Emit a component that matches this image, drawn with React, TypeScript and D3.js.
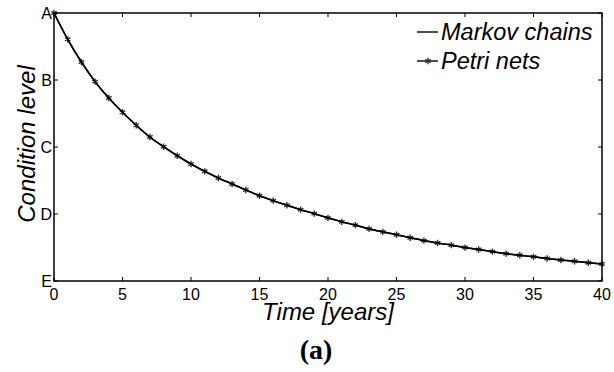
import React from "react";
import * as d3 from "d3";

// Years 0..40 and the mean condition level (A = 1 ... E = 5)
const years: number[] = d3.range(0, 41);

const markovLevels: number[] = [
  1.0, 1.393, 1.731, 2.025, 2.269, 2.482, 2.676, 2.851, 2.996, 3.13,
  3.254, 3.363, 3.463, 3.552, 3.642, 3.727, 3.801, 3.87, 3.935, 3.995,
  4.058, 4.117, 4.166, 4.222, 4.267, 4.309, 4.354, 4.397, 4.433, 4.465,
  4.501, 4.529, 4.561, 4.592, 4.616, 4.639, 4.665, 4.686, 4.706, 4.727,
  4.746,
];

const petriLevels: number[] = [
  1.0, 1.393, 1.731, 2.025, 2.269, 2.482, 2.676, 2.851, 2.996, 3.13,
  3.254, 3.363, 3.463, 3.552, 3.642, 3.727, 3.801, 3.87, 3.935, 3.995,
  4.058, 4.117, 4.166, 4.222, 4.267, 4.309, 4.354, 4.397, 4.433, 4.465,
  4.501, 4.529, 4.561, 4.592, 4.616, 4.639, 4.665, 4.686, 4.706, 4.727,
  4.746,
];

const xTicks: number[] = [0, 5, 10, 15, 20, 25, 30, 35, 40];
const yTicks: number[] = [1, 2, 3, 4, 5];
const yTickLabels: string[] = ["A", "B", "C", "D", "E"];

const seriesNames: string[] = ["Markov chains", "Petri nets"];

const W = 614;
const H = 372;
const M = { left: 54, right: 602, top: 13, bottom: 281 };
const SANS = "'Liberation Sans', Arial, Helvetica, sans-serif";
const SERIF = "'Liberation Serif', 'Times New Roman', serif";

export default function App() {
  const x = d3.scaleLinear().domain([0, 40]).range([M.left, M.right]);
  const y = d3.scaleLinear().domain([1, 5]).range([M.top, M.bottom]);

  const line = d3
    .line<number>()
    .x((_, i) => x(years[i]))
    .y((d) => y(d))
    .curve(d3.curveMonotoneX);

  const star = d3.symbol().type(d3.symbolAsterisk).size(28);
  const starPath = star() as string;

  const tickLen = 4;

  return (
    <svg
      width={W}
      height={H}
      style={{ position: "fixed", left: 0, top: 0, background: "#fff" }}
    >
      <rect x={0} y={0} width={W} height={H} fill="#fff" />

      {/* Petri net series: line with asterisk markers */}
      <path d={line(petriLevels) as string} fill="none" stroke="#000" strokeWidth={1.4} />
      {petriLevels.map((v, i) => (
        <path
          key={"m" + i}
          d={starPath}
          transform={`translate(${x(years[i])},${y(v)})`}
          fill="none"
          stroke="#333"
          strokeWidth={1.4}
        />
      ))}
      {/* Markov chain series */}
      <path d={line(markovLevels) as string} fill="none" stroke="#000" strokeWidth={1.6} />

      {/* Frame */}
      <rect
        x={M.left}
        y={M.top}
        width={M.right - M.left}
        height={M.bottom - M.top}
        fill="none"
        stroke="#000"
        strokeWidth={1.5}
      />

      {/* X ticks (inward, bottom and top) */}
      {xTicks.map((t) => (
        <g key={"x" + t}>
          <line x1={x(t)} x2={x(t)} y1={M.bottom} y2={M.bottom - tickLen} stroke="#000" strokeWidth={1} />
          <line x1={x(t)} x2={x(t)} y1={M.top} y2={M.top + tickLen} stroke="#000" strokeWidth={1} />
          <text
            x={x(t)}
            y={M.bottom + 19}
            textAnchor="middle"
            fontFamily={SANS}
            fontSize={16}
            fill="#000"
          >
            {t}
          </text>
        </g>
      ))}

      {/* Y ticks (inward, left and right) */}
      {yTicks.map((t, i) => (
        <g key={"y" + t}>
          <line x1={M.left} x2={M.left + tickLen} y1={y(t)} y2={y(t)} stroke="#000" strokeWidth={1} />
          <line x1={M.right} x2={M.right - tickLen} y1={y(t)} y2={y(t)} stroke="#000" strokeWidth={1} />
          <text
            x={M.left - 2}
            y={y(t) + 6}
            textAnchor="end"
            fontFamily={SANS}
            fontSize={16}
            fill="#000"
          >
            {yTickLabels[i]}
          </text>
        </g>
      ))}

      {/* Axis titles */}
      <text
        x={(M.left + M.right) / 2}
        y={320}
        textAnchor="middle"
        fontFamily={SANS}
        fontStyle="italic"
        fontSize={24}
        fill="#000"
      >
        Time [years]
      </text>
      <text
        transform={`translate(35,${(M.top + M.bottom) / 2 - 3}) rotate(-90)`}
        textAnchor="middle"
        fontFamily={SANS}
        fontStyle="italic"
        fontSize={24}
        fill="#000"
      >
        Condition level
      </text>
      <text
        x={316}
        y={359}
        textAnchor="middle"
        fontFamily={SERIF}
        fontWeight="bold"
        fontSize={28}
        fill="#000"
      >
        (a)
      </text>

      {/* Legend */}
      <g>
        <line x1={417} x2={438} y1={32} y2={32} stroke="#000" strokeWidth={1.4} />
        <text x={441} y={40} fontFamily={SANS} fontStyle="italic" fontSize={23.5} fill="#000">
          {seriesNames[0]}
        </text>
        <line x1={417} x2={438} y1={61} y2={61} stroke="#000" strokeWidth={1.4} />
        <path d={starPath} transform="translate(428,61)" fill="none" stroke="#333" strokeWidth={1.4} />
        <text x={441} y={69} fontFamily={SANS} fontStyle="italic" fontSize={23.5} fill="#000">
          {seriesNames[1]}
        </text>
      </g>
    </svg>
  );
}
